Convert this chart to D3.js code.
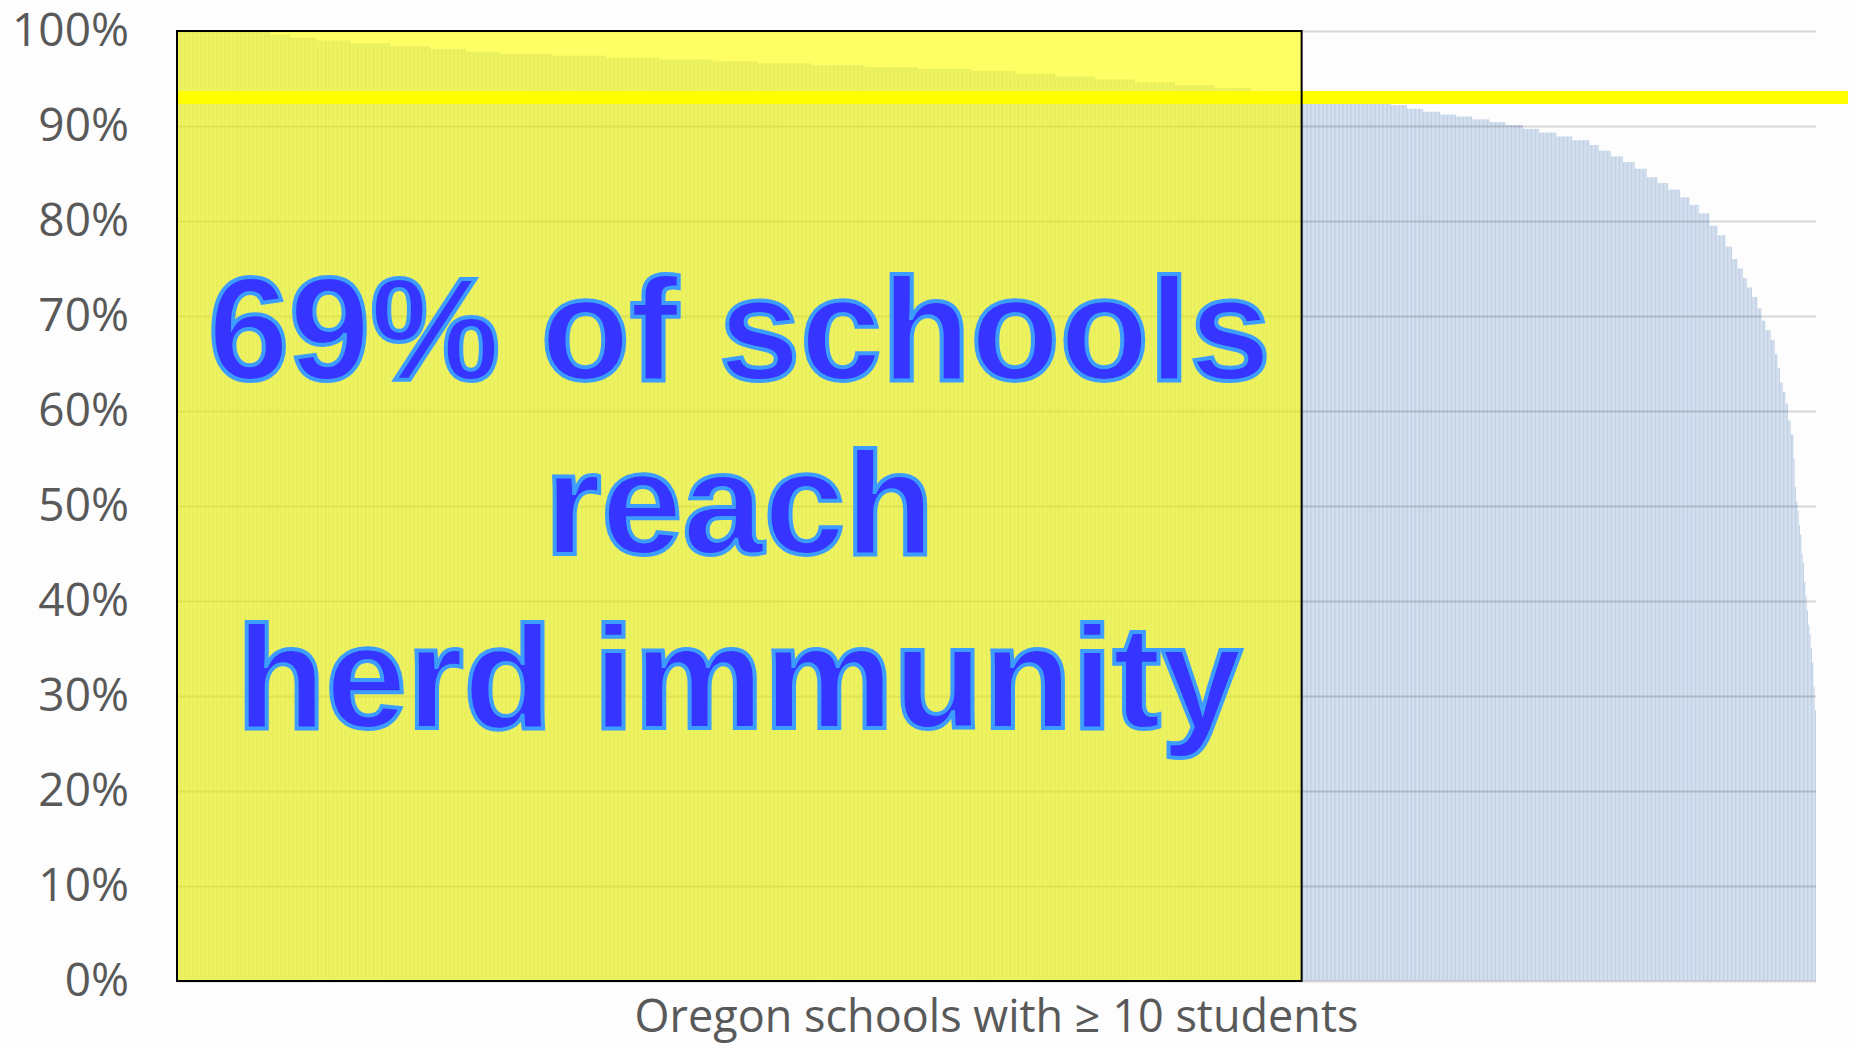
<!DOCTYPE html>
<html>
<head>
<meta charset="utf-8">
<script src="https://cdn.jsdelivr.net/npm/d3@7"></script>
<style>
body { margin: 0; background: #fdfdfd; }
svg { display: block; }
</style>
</head>
<body>
<div id="chart"></div>
<script>
// vaccination rate (%) of Oregon schools, sorted high to low,
// stored as plateaus: rate and how many schools sit at that rate
var rates = [100, 99.6, 99.3, 99.0, 98.7, 98.4, 98.1, 97.8,
             97.6, 97.4, 97.2, 97.0, 96.8,
             96.6, 96.4, 96.2, 96.0, 95.8,
             95.5, 95.2, 94.9, 94.6, 94.3, 94.0,
             93.7, 93.4, 93.1,
             92.9, 92.6, 92.2, 91.8, 91.5,
             91.2, 91.0, 90.7, 90.4, 90.1,
             89.7, 89.3, 88.9, 88.5, 88.0,
             87.4, 86.8, 86.2, 85.5, 84.6, 84.0, 83.3,
             82.5, 81.7, 80.8, 79.5, 78.5, 77.3,
             76, 75, 74, 73, 72, 70.8, 69.5, 68.5, 67.5,
             66, 64.5, 63, 62, 60.8, 59, 57.5,
             55, 52, 50.5, 49.5, 48, 47,
             45, 44, 42, 40.5, 39, 37.5, 36.5, 35, 33.5, 31, 28.5];
var schoolCounts = [70, 15, 20, 25, 30, 30, 27, 25,
                    40, 40, 40, 40, 34,
                    40, 40, 40, 40, 33,
                    30, 30, 30, 30, 30, 27,
                    13, 13, 12,
                    55, 12, 12, 12, 13,
                    12, 12, 13, 12, 13,
                    12, 13, 12, 13, 7,
                    9, 9, 9, 9, 8, 8, 9,
                    7, 7, 8, 6, 6, 5,
                    4, 4, 3, 4, 4, 3, 3, 4, 3,
                    2, 2, 2, 2, 2, 2, 2,
                    1, 1, 1, 1, 1, 1,
                    1, 1, 1, 1, 1, 1, 1, 1, 1, 1, 1];

var yTicks = [0, 10, 20, 30, 40, 50, 60, 70, 80, 90, 100];
var herdThreshold = 93;
var messageLines = ["69% of schools", "reach", "herd immunity"];
var xTitle = "Oregon schools with \u2265 10 students";

var W = 1856, H = 1046,
    margin = {top: 31, right: 40, bottom: 65, left: 177};

var schools = d3.merge(rates.map(function(r, i) {
  return d3.range(schoolCounts[i]).map(function() { return r; });
}));

var svg = d3.select("#chart").append("svg")
    .attr("width", W)
    .attr("height", H);

var x = d3.scaleBand()
    .domain(d3.range(schools.length))
    .range([margin.left, W - margin.right])
    .paddingInner(0.12);

var y = d3.scaleLinear()
    .domain([0, 100])
    .range([H - margin.bottom, margin.top]);

var x0 = x.range()[0], x1 = x.range()[1];

// bars
svg.append("g")
  .selectAll("rect")
  .data(schools)
  .join("rect")
    .attr("x", function(d, i) { return x(i); })
    .attr("width", x.bandwidth())
    .attr("y", function(d) { return y(d); })
    .attr("height", function(d) { return y(0) - y(d); })
    .attr("fill", "#c2d2e7");

// gridlines on top, darkening a little where they cross bars
var grid = svg.append("g")
    .attr("transform", "translate(" + x0 + ",0)")
    .call(d3.axisLeft(y).tickValues(yTicks).tickSize(-(x1 - x0)).tickFormat(""));
grid.select(".domain").remove();
grid.selectAll("line")
    .attr("stroke", "#000")
    .attr("stroke-opacity", 0.15)
    .attr("stroke-width", 2);

// herd immunity threshold
svg.append("line")
    .attr("x1", x0)
    .attr("x2", W - 8)
    .attr("y1", y(herdThreshold))
    .attr("y2", y(herdThreshold))
    .attr("stroke", "#ffff00")
    .attr("stroke-width", 13);

// schools at or above threshold
var nAbove = schools.filter(function(d) { return d >= herdThreshold; }).length;
var boxRight = x0 + (x1 - x0) * nAbove / schools.length;

svg.append("rect")
    .attr("x", x0)
    .attr("y", y(100))
    .attr("width", boxRight - x0)
    .attr("height", y(0) - y(100))
    .attr("fill", "#ffff00")
    .attr("fill-opacity", 0.6)
    .attr("stroke", "#000")
    .attr("stroke-width", 2);

var cx = (x0 + boxRight) / 2;
svg.append("g")
  .selectAll("text")
  .data(messageLines)
  .join("text")
    .attr("x", cx)
    .attr("y", function(d, i) { return 380 + i * 174; })
    .attr("text-anchor", "middle")
    .attr("font-family", "'Liberation Sans', Arial, sans-serif")
    .attr("font-weight", "bold")
    .attr("font-size", 146)
    .attr("fill", "#3535ff")
    .attr("stroke", "#3d9dff")
    .attr("stroke-width", 4)
    .text(function(d) { return d; });

// y labels
var yAxis = svg.append("g")
    .attr("transform", "translate(129,0)")
    .call(d3.axisLeft(y).tickValues(yTicks).tickSize(0).tickPadding(0)
          .tickFormat(function(d) { return d + "%"; }));
yAxis.select(".domain").remove();
yAxis.selectAll("text")
    .attr("font-family", "'Open Sans', sans-serif")
    .attr("font-size", 46)
    .attr("fill", "#595959");

svg.append("text")
    .attr("x", (x0 + x1) / 2)
    .attr("y", 1032)
    .attr("text-anchor", "middle")
    .attr("font-family", "'Open Sans', sans-serif")
    .attr("font-size", 45)
    .attr("fill", "#595959")
    .text(xTitle);
</script>
</body>
</html>
